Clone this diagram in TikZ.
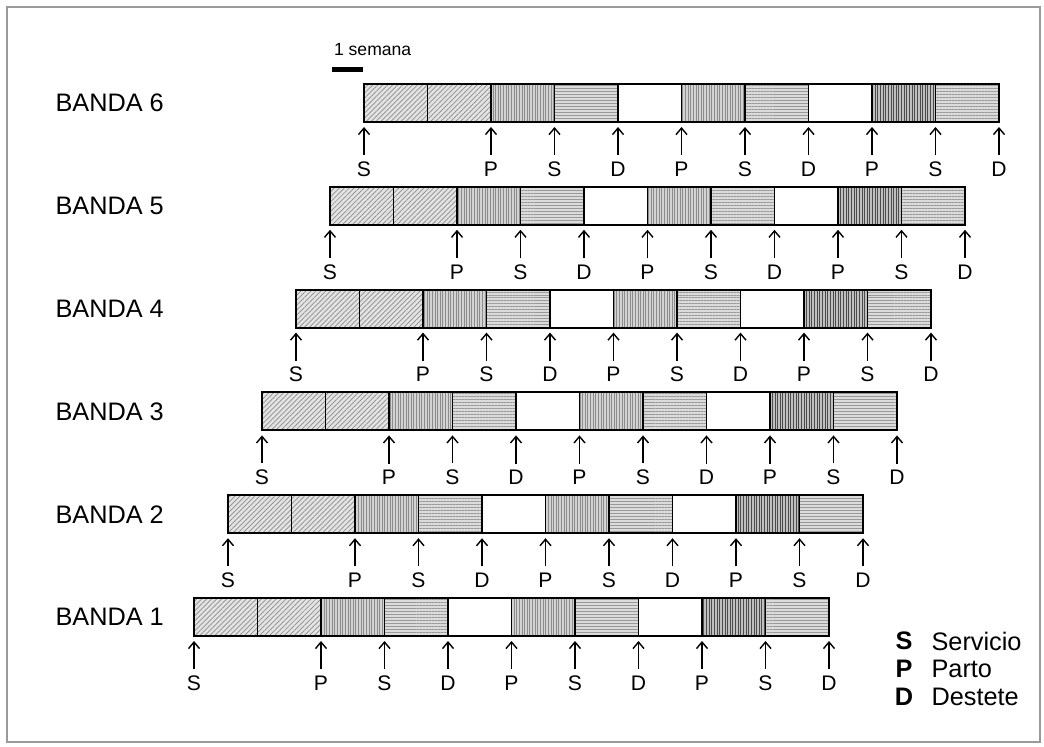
\documentclass[tikz,border=0pt]{standalone}
\usepackage{fontspec}
\setsansfont{Liberation Sans}
\usetikzlibrary{arrows.meta,patterns.meta}
\definecolor{MarcoGris}{HTML}{9A9A9A}

\begin{document}
\begin{tikzpicture}[font=\sffamily,line width=0.8pt,
  diag/.style={preaction={fill=gray!22},pattern={Lines[angle=45,distance=2pt,line width=0.4pt]},pattern color=gray!90,draw=black,line width=0.9pt},
  vert/.style={preaction={fill=gray!35},pattern={Lines[angle=90,distance=1.5pt,line width=0.45pt]},pattern color=gray!90,draw=black,line width=0.9pt},
  dark/.style={preaction={fill=gray!50},pattern={Lines[angle=90,distance=1.5pt,line width=0.45pt]},pattern color=black!70,draw=black,line width=0.9pt},
  horz/.style={preaction={fill=gray!28},pattern={Lines[angle=0,distance=1.7pt,line width=0.45pt]},pattern color=gray!80,draw=black,line width=0.9pt},
  blank/.style={fill=white,draw=black,line width=0.9pt},
  tick/.style={-{Straight Barb[length=1.3mm,width=2.2mm]},line width=0.8pt}]
  \useasboundingbox (0,0) rectangle (20.88,14.92);
  \draw[MarcoGris,line width=1.2pt] (0.14,0.08) rectangle (20.8,14.78);   % marco
  % --- escala: 1 semana ---
  \node[anchor=west,font=\sffamily\normalsize] (semana) at (6.55,13.92){1 semana};
  \draw[line width=2.5pt] (6.64,13.53) -- (7.26,13.53);
  % --- bandas 1 a 6, cada una desplazada hacia la derecha ---
  \foreach \k in {1,...,6}{
    \pgfmathsetmacro{\xo}{3.88+0.68*(\k-1)}
    \pgfmathsetmacro{\ym}{2.58+2.056*(\k-1)}
    \node[anchor=west,font=\sffamily\Large] (banda\k) at (0.98,\ym){BANDA \k};
    \foreach \i/\tipo in {0/diag,1/diag,2/vert,3/horz,4/blank,5/vert,6/horz,7/blank,8/dark,9/horz}{
      \draw[\tipo] ({\xo+1.27*\i},\ym-0.38) rectangle ++(1.27,0.76);
    }
    \draw[line width=1.1pt] (\xo,\ym-0.38) rectangle ++(12.7,0.76);
    % flechas con S, P, D
    \foreach \i/\evento in {0/S,2/P,3/S,4/D,5/P,6/S,7/D,8/P,9/S,10/D}{
      \coordinate (t\k-\i) at ({\xo+1.27*\i},\ym-0.48);
      \node[font=\sffamily\large] (e\k-\i) at ({\xo+1.27*\i},\ym-1.32){\evento};
      \draw[tick] (e\k-\i.north) -- (t\k-\i);
    }
  }
  % --- leyenda ---
  \node[font=\sffamily\Large\bfseries] (ls) at (18.08,2.10){S};
  \node[font=\sffamily\Large\bfseries] (lp) at (18.08,1.54){P};
  \node[font=\sffamily\Large\bfseries] (ld) at (18.08,0.98){D};
  \node[anchor=west,font=\sffamily\Large] (servicio) at (18.5,2.10){Servicio};
  \node[anchor=west,font=\sffamily\Large] (parto) at (18.5,1.54){Parto};
  \node[anchor=west,font=\sffamily\Large] (destete) at (18.5,0.98){Destete};
\end{tikzpicture}
\end{document}
